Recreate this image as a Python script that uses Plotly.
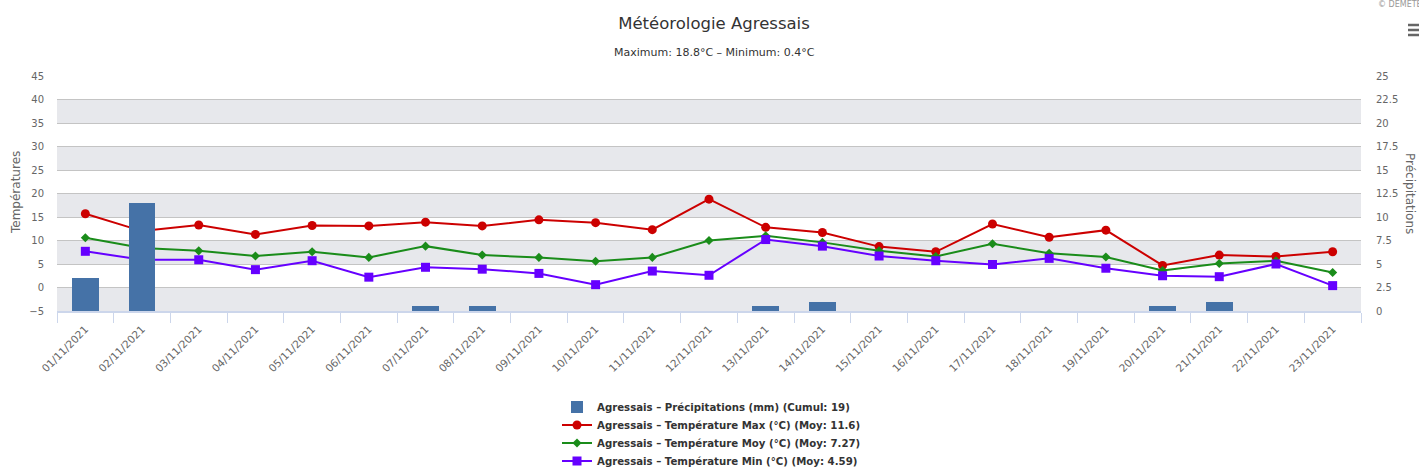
import plotly.graph_objects as go

dates = ["01/11/2021", "02/11/2021", "03/11/2021", "04/11/2021", "05/11/2021", "06/11/2021",
         "07/11/2021", "08/11/2021", "09/11/2021", "10/11/2021", "11/11/2021", "12/11/2021",
         "13/11/2021", "14/11/2021", "15/11/2021", "16/11/2021", "17/11/2021", "18/11/2021",
         "19/11/2021", "20/11/2021", "21/11/2021", "22/11/2021", "23/11/2021"]

precip = [3.5, 11.5, 0, 0, 0, 0, 0.5, 0.5, 0, 0, 0, 0, 0.5, 1.0, 0, 0, 0, 0, 0, 0.5, 1.0, 0, 0]
t_max = [15.7, 12.0, 13.3, 11.3, 13.2, 13.1, 13.9, 13.1, 14.4, 13.8, 12.3, 18.8, 12.8, 11.7,
         8.7, 7.6, 13.5, 10.7, 12.2, 4.7, 6.9, 6.6, 7.6]
t_moy = [10.6, 8.4, 7.8, 6.7, 7.6, 6.4, 8.8, 6.9, 6.4, 5.6, 6.4, 10.0, 11.0, 9.6,
         7.8, 6.6, 9.3, 7.3, 6.5, 3.6, 5.1, 5.7, 3.2]
t_min = [7.7, 5.9, 5.9, 3.8, 5.7, 2.2, 4.3, 3.9, 3.0, 0.6, 3.5, 2.6, 10.2, 8.8,
         6.7, 5.7, 4.9, 6.2, 4.1, 2.5, 2.3, 5.0, 0.4]

title = "Météorologie Agressais"
subtitle = "Maximum: 18.8°C – Minimum: 0.4°C"
names = ["Agressais – Précipitations (mm) (Cumul: 19)",
         "Agressais – Température Max (°C) (Moy: 11.6)",
         "Agressais – Température Moy (°C) (Moy: 7.27)",
         "Agressais – Température Min (°C) (Moy: 4.59)"]

FONT = "DejaVu Sans"
xs = list(range(len(dates)))

W, H = 1419, 473
PL, PR, PT, PB = 57, 1361, 76, 311  # plot area in page pixels
def px(x):
    return (x - PL) / (PR - PL)
def py(y):
    return (PB - y) / (PB - PT)

fig = go.Figure()
fig.add_trace(go.Bar(x=xs, y=precip, yaxis="y2", name=names[0], width=0.47, legend="legend",
                     marker=dict(color="#4572a7", line=dict(width=0))))
fig.add_trace(go.Scatter(x=xs, y=t_max, name=names[1], mode="lines+markers", legend="legend2",
                         line=dict(color="#cc0000", width=2),
                         marker=dict(symbol="circle", size=9, color="#cc0000")))
fig.add_trace(go.Scatter(x=xs, y=t_moy, name=names[2], mode="lines+markers", legend="legend3",
                         line=dict(color="#1a8c1a", width=2),
                         marker=dict(symbol="diamond", size=7, color="#1a8c1a")))
fig.add_trace(go.Scatter(x=xs, y=t_min, name=names[3], mode="lines+markers", legend="legend4",
                         line=dict(color="#6600ff", width=2),
                         marker=dict(symbol="square", size=9, color="#6600ff")))

shapes = []
for lo in [35, 25, 15, 5, -5]:
    shapes.append(dict(type="rect", xref="paper", yref="y", x0=0, x1=1, y0=lo, y1=lo + 5,
                       fillcolor="#e7e8ec", line=dict(width=0), layer="below"))
for yy in [25, 30, 35]:
    shapes.append(dict(type="line", xref="paper", yref="paper", x0=px(1408), x1=px(1419),
                       y0=py(yy), y1=py(yy), line=dict(color="#666666", width=2.5)))

annotations = [
    dict(text=subtitle, xref="paper", yref="paper", x=px(714), y=py(53), showarrow=False,
         xanchor="center", yanchor="middle", font=dict(family=FONT, size=11, color="#333333")),
    dict(text="Températures", xref="paper", yref="paper", x=px(16), y=py(193), showarrow=False,
         textangle=-90, xanchor="center", yanchor="middle",
         font=dict(family=FONT, size=12, color="#666666")),
    dict(text="Précipitations", xref="paper", yref="paper", x=px(1410), y=py(193), showarrow=False,
         textangle=90, xanchor="center", yanchor="middle",
         font=dict(family=FONT, size=12, color="#666666")),
    dict(text="© DEMETER", xref="paper", yref="paper", x=px(1376), y=py(5), showarrow=False,
         xanchor="left", yanchor="middle", font=dict(family=FONT, size=8, color="#999999")),
]

leg_font = dict(family=FONT, size=10.2, color="#333333", weight="bold")
def leg(yc):
    return dict(orientation="v", x=px(557), xref="paper", xanchor="left",
                y=1 - yc / H, yref="container", yanchor="middle",
                font=leg_font, itemwidth=30, bgcolor="rgba(0,0,0,0)", borderwidth=0)

fig.update_layout(
    width=W, height=H,
    margin=dict(l=PL, r=W - PR, t=PT, b=H - PB, pad=0),
    paper_bgcolor="white", plot_bgcolor="white",
    font=dict(family=FONT, size=11, color="#666666"),
    title=dict(text=title, x=px(714), xref="paper", xanchor="center",
               y=1 - 23 / H, yref="container", yanchor="middle",
               font=dict(family=FONT, size=16.5, color="#333333")),
    bargap=0,
    showlegend=True,
    legend=leg(407), legend2=leg(425), legend3=leg(443), legend4=leg(461),
    xaxis=dict(range=[-0.5, len(dates) - 0.5], tickvals=xs, ticktext=dates, tickangle=-45,
               ticks="", showgrid=False, zeroline=False, showline=True,
               linecolor="#ccd6eb", linewidth=2, tickfont=dict(size=10.5, color="#666666"),
               ticklabelstandoff=6,
               minor=dict(tickvals=[i - 0.5 for i in range(len(dates) + 1)], ticks="outside",
                          ticklen=10, tickcolor="#ccd6eb", tickwidth=1, showgrid=False)),
    yaxis=dict(range=[-5, 45], tickvals=list(range(-5, 50, 5)), showgrid=True,
               gridcolor="#c4c4c4", gridwidth=1, zeroline=False, showline=False,
               tickfont=dict(size=10, color="#666666"), ticklabelstandoff=12),
    yaxis2=dict(range=[0, 25], tickvals=[0, 2.5, 5, 7.5, 10, 12.5, 15, 17.5, 20, 22.5, 25],
                ticktext=["0", "2.5", "5", "7.5", "10", "12.5", "15", "17.5", "20", "22.5", "25"],
                overlaying="y", side="right", showgrid=False, zeroline=False, showline=False,
                tickfont=dict(size=10, color="#666666"), ticklabelstandoff=14),
    shapes=shapes, annotations=annotations,
)

fig.write_html("out.html", config={"displayModeBar": False},
               post_script="document.body.style.margin='0';document.body.style.padding='0';"
                           "document.documentElement.style.overflow='hidden';"
                           "document.body.style.overflow='hidden';")
